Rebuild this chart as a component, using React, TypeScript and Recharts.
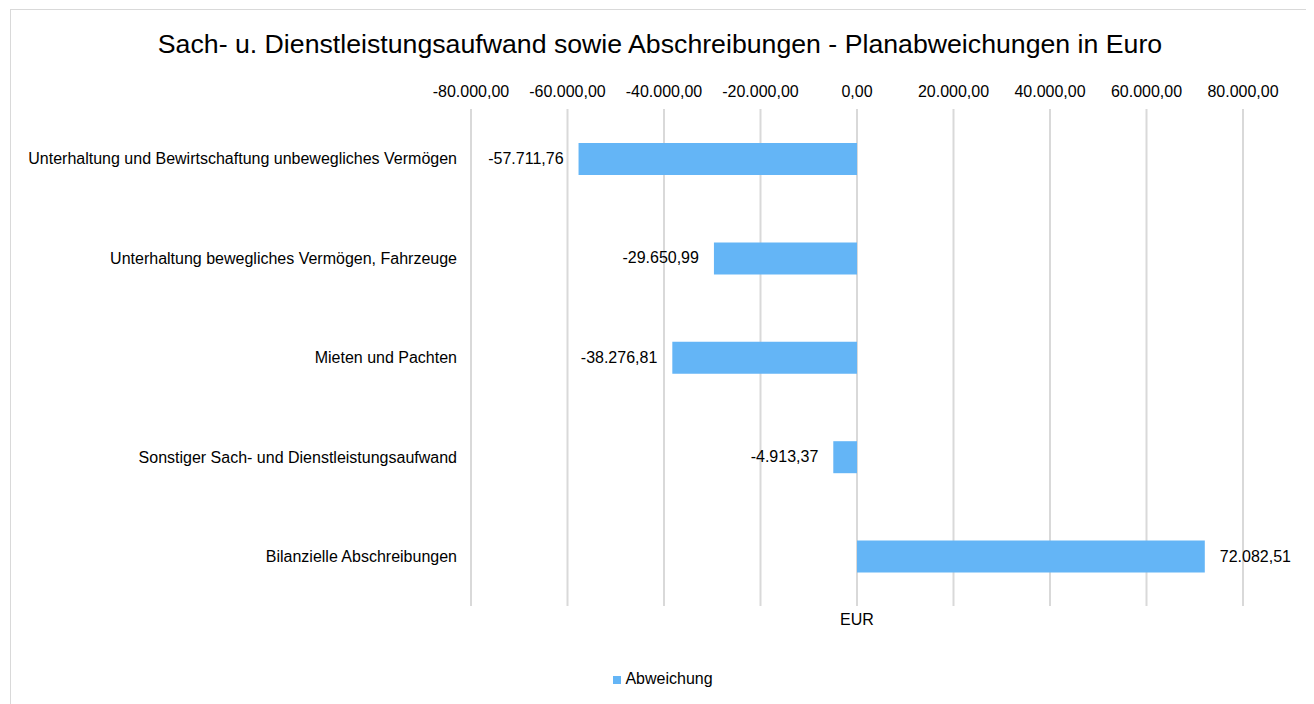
import React from 'react'
import {
  BarChart,
  Bar,
  XAxis,
  YAxis,
  CartesianGrid,
  Legend,
  LabelList
} from 'recharts'

// Kategorien und Abweichungen (Euro)
const categories = [
  'Unterhaltung und Bewirtschaftung unbewegliches Vermögen',
  'Unterhaltung bewegliches Vermögen, Fahrzeuge',
  'Mieten und Pachten',
  'Sonstiger Sach- und Dienstleistungsaufwand',
  'Bilanzielle Abschreibungen'
]
const abweichung = [-57711.76, -29650.99, -38276.81, -4913.37, 72082.51]
const xTicks = [-80000, -60000, -40000, -20000, 0, 20000, 40000, 60000, 80000]

const data = categories.map((name, i) => ({ name, value: abweichung[i] }))

const fmt = (v: number) =>
  v.toLocaleString('de-DE', { minimumFractionDigits: 2, maximumFractionDigits: 2 })

const FONT = '"Liberation Sans", Arial, sans-serif'
const BAR_COLOR = '#64b5f6'

const ValueLabel = (props: any) => {
  const { x, y, width, height, value } = props
  const neg = value < 0
  // bei negativen Werten links vom Balken, sonst rechts
  const tx = neg ? Math.min(x, x + width) - 15 : Math.max(x, x + width) + 15
  return (
    <text
      x={tx}
      y={y + height / 2}
      dy={5}
      textAnchor={neg ? 'end' : 'start'}
      fontSize={16}
      fontFamily={FONT}
      fill="#000"
    >
      {fmt(value)}
    </text>
  )
}

export default function App() {
  return (
    <div style={{ position: 'relative', margin: '-8px 0 0 -8px', width: 1314, height: 720, background: '#fff', fontFamily: FONT, overflow: 'hidden' }}>
      <div
        style={{
          position: 'absolute',
          left: 10,
          top: 9,
          width: 1297,
          height: 740,
          border: '1px solid #d9d9d9',
          boxSizing: 'border-box'
        }}
      />
      <div
        style={{
          position: 'absolute',
          left: 0,
          top: 29,
          width: 1320,
          textAlign: 'center',
          fontSize: 26.7,
          color: '#000'
        }}
      >
        Sach- u. Dienstleistungsaufwand sowie Abschreibungen - Planabweichungen in Euro
      </div>
      <div style={{ position: 'absolute', left: 0, top: 0 }}>
        <BarChart
          width={1314}
          height={704}
          data={data}
          layout="vertical"
          margin={{ top: 79, right: 71, bottom: 50, left: 10 }}
        >
          <CartesianGrid horizontal={false} stroke="#d9d9d9" strokeWidth={2} />
          <XAxis
            type="number"
            orientation="top"
            domain={[-80000, 80000]}
            ticks={xTicks}
            tickFormatter={fmt}
            axisLine={false}
            tickLine={false}
            tickMargin={6}
            height={30}
            tick={{ fontSize: 16, fill: '#000', fontFamily: FONT }}
            interval={0}
          />
          <XAxis
            xAxisId="eur"
            type="number"
            orientation="bottom"
            domain={[-80000, 80000]}
            tick={false}
            axisLine={false}
            tickLine={false}
            height={30}
            label={{ value: 'EUR', position: 'insideTop', offset: 8, fill: '#000', fontSize: 16, fontFamily: FONT }}
          />
          <YAxis
            type="category"
            dataKey="name"
            width={461}
            axisLine={false}
            tickLine={false}
            tickMargin={8}
            interval={0}
            tick={{ fontSize: 16, fill: '#000', fontFamily: FONT }}
          />
          <Legend
            verticalAlign="bottom"
            iconType="square"
            iconSize={8}
            wrapperStyle={{ left: 0, width: 1336, top: 670 }}
            formatter={(v: string) => <span style={{ color: '#000', fontSize: 16, fontFamily: FONT }}>{v}</span>}
          />
          <Bar dataKey="value" name="Abweichung" fill={BAR_COLOR} barSize={32} isAnimationActive={false}>
            <LabelList dataKey="value" content={ValueLabel} />
          </Bar>
        </BarChart>
      </div>
    </div>
  )
}
